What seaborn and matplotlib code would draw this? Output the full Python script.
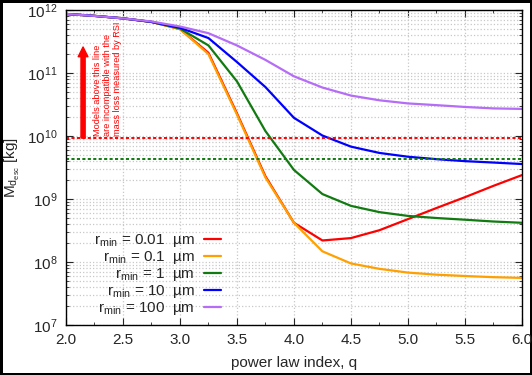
import pandas as pd
import seaborn as sns
import matplotlib.pyplot as plt
import matplotlib.ticker as mticker

# power law index
q = [2.0, 2.25, 2.5, 2.75, 3.0, 3.25, 3.5, 3.75, 4.0,
     4.25, 4.5, 4.75, 5.0, 5.25, 5.5, 5.75, 6.0]

# escaping dust mass [kg]
m_001 = [8.7e11, 8.1e11, 7.4e11, 6.5e11, 5.0e11, 2.1e11, 2.3e10, 2.3e9, 4.2e8,
         2.2e8, 2.4e8, 3.2e8, 4.8e8, 7.2e8, 1.07e9, 1.62e9, 2.4e9]
m_01 = [8.7e11, 8.1e11, 7.4e11, 6.5e11, 5.0e11, 2.0e11, 2.2e10, 2.2e9, 4.2e8,
        1.48e8, 9.5e7, 7.8e7, 6.8e7, 6.3e7, 6.0e7, 5.75e7, 5.6e7]
m_1 = [8.7e11, 8.1e11, 7.4e11, 6.5e11, 5.1e11, 2.75e11, 7.4e10, 1.2e10, 2.9e9,
       1.2e9, 7.8e8, 6.2e8, 5.4e8, 5.0e8, 4.7e8, 4.4e8, 4.2e8]
m_10 = [8.7e11, 8.1e11, 7.4e11, 6.5e11, 5.25e11, 3.6e11, 1.5e11, 6.0e10, 1.95e10,
        1.02e10, 6.8e9, 5.4e9, 4.7e9, 4.3e9, 4.0e9, 3.8e9, 3.6e9]
m_100 = [8.7e11, 8.1e11, 7.4e11, 6.6e11, 5.5e11, 4.3e11, 2.75e11, 1.62e11, 8.9e10,
         5.9e10, 4.4e10, 3.7e10, 3.3e10, 3.1e10, 2.9e10, 2.75e10, 2.7e10]

labels = [r'r$_{\mathrm{min}}$ = 0.01  µm', r'r$_{\mathrm{min}}$ = 0.1  µm',
          r'r$_{\mathrm{min}}$ = 1  µm', r'r$_{\mathrm{min}}$ = 10  µm',
          r'r$_{\mathrm{min}}$ = 100  µm']
colors = ['#ff0000', '#ffa000', '#117a11', '#0000ff', '#b56cf7']

limit_rsi = 9.3e9
limit_green = 4.4e9

df = pd.concat([pd.DataFrame({'q': q, 'M': m, 'r': lab})
                for m, lab in zip([m_001, m_01, m_1, m_10, m_100], labels)])

sns.set_style('ticks')
plt.rcParams['font.family'] = ['Liberation Sans', 'DejaVu Sans']
plt.rcParams['mathtext.fontset'] = 'custom'
plt.rcParams['mathtext.rm'] = 'Liberation Sans'
plt.rcParams['mathtext.it'] = 'Liberation Sans:italic'
plt.rcParams['mathtext.bf'] = 'Liberation Sans:bold'

fig, ax = plt.subplots(figsize=(5.32, 3.75), dpi=100)
fig.subplots_adjust(left=0.124, right=0.981, top=0.973, bottom=0.1333)
fig.patch.set_edgecolor('black')
fig.patch.set_linewidth(2.5)

ax.set_yscale('log')
ax.grid(True, which='major', color='#c8c8c8', linestyle=':', linewidth=0.9)
ax.grid(True, which='minor', axis='y', color='#c8c8c8', linestyle=':', linewidth=0.9)
ax.set_axisbelow(True)

sns.lineplot(data=df, x='q', y='M', hue='r', hue_order=labels, palette=colors,
             linewidth=1.6, ax=ax)

ax.axhline(limit_rsi, color='red', linestyle=(0, (1.6, 1.2)), linewidth=1.4)
ax.axhline(limit_green, color='#117a11', linestyle=(0, (1.6, 1.2)), linewidth=1.4)

ax.annotate('', xy=(2.15, 2.6e11), xytext=(2.15, limit_rsi),
            arrowprops=dict(color='red', width=3, headwidth=7, headlength=7))
ax.text(2.365, 1.02e10, 'Models above this line\nare incompatible with the\nmass loss measured by RSI',
        rotation=90, color='red', fontsize=6.6, ha='center', va='bottom',
        multialignment='left', linespacing=1.1)

ax.set_xlim(2.0, 6.0)
ax.set_ylim(1e7, 1e12)
ax.xaxis.set_major_locator(mticker.MultipleLocator(0.5))
ax.xaxis.set_minor_locator(mticker.MultipleLocator(0.25))
ax.xaxis.set_major_formatter(mticker.FormatStrFormatter('%.1f'))
ax.yaxis.set_major_locator(mticker.LogLocator(base=10))
ax.yaxis.set_minor_locator(mticker.LogLocator(base=10, subs=range(2, 10)))
ax.yaxis.set_minor_formatter(mticker.NullFormatter())
ax.tick_params(which='both', direction='in', top=True, right=True, labelsize=11)
ax.tick_params(which='major', length=5, width=0.8, pad=6)
ax.tick_params(which='minor', length=2.5, width=0.6)
for s in ax.spines.values():
    s.set_linewidth(1.0)
    s.set_color('black')

ax.set_xlabel('power law index, q', fontsize=11, labelpad=6)
ax.set_ylabel(r'M$_{\mathrm{d}_{\mathrm{esc}}}$ [kg]', fontsize=11, labelpad=4)

handles, labs = ax.get_legend_handles_labels()
ax.legend(handles, labs, loc='lower right', bbox_to_anchor=(0.36, -0.005),
          markerfirst=False, frameon=False, fontsize=11, handlelength=1.1,
          handletextpad=0.6, labelspacing=0.0, borderaxespad=0.2)

fig.savefig('out.png', dpi=100)
